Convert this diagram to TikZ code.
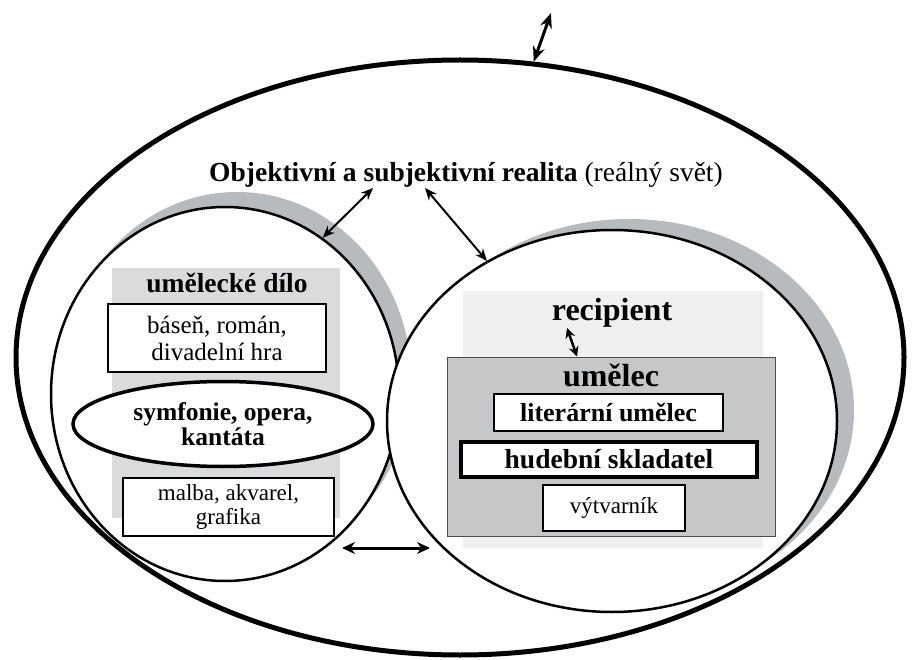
\documentclass[tikz,border=0pt]{standalone}
\usepackage{fontspec}
\setmainfont{Liberation Serif}
\usetikzlibrary{arrows.meta,shapes.geometric}

\definecolor{shadegray}{RGB}{183,187,189}
\definecolor{worklight}{RGB}{218,219,221}
\definecolor{reclight}{RGB}{240,240,240}
\definecolor{artistgray}{RGB}{198,199,201}

\newcommand{\sizept}[2]{\fontsize{#1}{#2}\selectfont}

\begin{document}
\begin{tikzpicture}[x=1pt, y=-1pt,
    oval/.style={ellipse, draw, fill=white, line width=2.5pt, inner sep=0pt},
    box/.style={draw, fill=white, line width=2pt, inner sep=0pt, align=center},
    dbl/.style={{Stealth[length=12pt,width=10pt]}-{Stealth[length=12pt,width=10pt]}, line width=2pt}]
    \useasboundingbox (0,0) rectangle (913,660);

    \node[ellipse, draw, line width=5pt, minimum width=888pt, minimum height=595pt] (world) at (460,357.5) {};
    \node[anchor=base, font=\sizept{27.5}{30}] (reality) at (466,182) {\textbf{Objektivní a subjektivní realita} (reálný svět)};
    \coordinate (beyond) at (551,13);
    \coordinate (real l) at (373,188);
    \coordinate (real r) at (425,188);

    \fill[shadegray] (237,379) ellipse [x radius=174pt, y radius=187pt];
    \node[oval, minimum width=348pt, minimum height=374pt] (work) at (225,394) {};
    \fill[shadegray] (629,410) ellipse [x radius=225pt, y radius=191pt];
    \node[oval, minimum width=450pt, minimum height=382pt] (artist) at (612,421) {};

    % umelecke dilo
    \node[fill=worklight, minimum width=228pt, minimum height=250pt, inner sep=0pt] (work bg) at (226,393) {};
    \node[anchor=base, font=\sizept{27.5}{30}\bfseries] (work name) at (227,293) {umělecké dílo};
    \node[box, minimum width=218pt, minimum height=68pt, font=\sizept{25}{27}] (poem) at (217,338) {báseň, román,\\divadelní hra};
    \node[ellipse, draw, fill=white, line width=3.5pt, minimum width=300pt, minimum height=85pt, inner sep=0pt, align=center, font=\sizept{25.5}{25}\bfseries] (music) at (223,424) {symfonie, opera,\\kantáta};
    \node[box, minimum width=211pt, minimum height=58pt, font=\sizept{23}{24}] (paint) at (228.5,507) {malba, akvarel,\\grafika};

    % recipient a umelec
    \node[fill=reclight, minimum width=300pt, minimum height=257pt, inner sep=0pt] (rec bg) at (613,419.5) {};
    \node[anchor=base, inner sep=1pt, font=\sizept{32}{34}\bfseries] (recipient) at (612,320) {recipient};
    \node[draw=black!70, line width=1pt, fill=artistgray, minimum width=328pt, minimum height=179pt, inner sep=0pt] (artist bg) at (611,446.5) {};
    \node[anchor=base, font=\sizept{32}{34}\bfseries] (artist name) at (611,386) {umělec};
    \node[box, line width=1.2pt, minimum width=229pt, minimum height=37pt, font=\sizept{26}{28}\bfseries] (writer) at (608.5,412.5) {literární umělec};
    \node[box, line width=4pt, minimum width=296pt, minimum height=35pt, font=\sizept{27.5}{30}\bfseries] (composer) at (609,459.5) {hudební skladatel};
    \node[box, line width=1.5pt, minimum width=142pt, minimum height=46pt, font=\sizept{23}{25}] (painter) at (614,508) {výtvarník};

    \coordinate (gap l) at (342,548);
    \coordinate (gap r) at (430,548);

    \draw[{Stealth[length=15pt,width=12pt]}-{Stealth[length=15pt,width=12pt]}, line width=3pt] (world.76) -- (beyond);
    \draw[dbl] (real l) -- (work.58);
    \draw[dbl] (real r) -- (artist.128);
    \draw[{Stealth[length=10pt,width=10pt]}-{Stealth[length=10pt,width=10pt]}, line width=2.5pt] ([xshift=-45pt]recipient.south) -- ([xshift=-34pt]artist bg.north);
    \draw[{Stealth[length=13pt,width=12pt]}-{Stealth[length=13pt,width=12pt]}, line width=3pt] (gap l) -- (gap r);
\end{tikzpicture}
\end{document}
